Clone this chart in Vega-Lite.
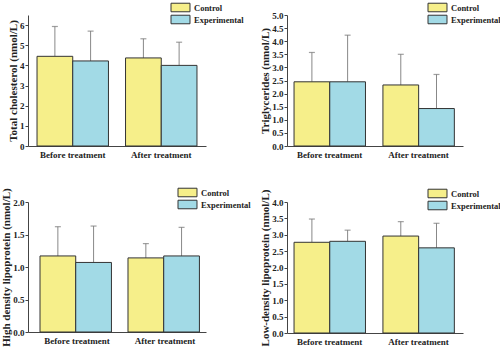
{
  "$schema": "https://vega.github.io/schema/vega-lite/v6.json",
  "padding": {"left": 0, "top": 2, "right": 0, "bottom": 0},
  "background": "white",
  "datasets": {
    "tc": [
      {"time": "Before treatment", "group": "Control", "value": 4.45, "upper": 5.93},
      {"time": "Before treatment", "group": "Experimental", "value": 4.22, "upper": 5.7},
      {"time": "After treatment", "group": "Control", "value": 4.37, "upper": 5.32},
      {"time": "After treatment", "group": "Experimental", "value": 4.0, "upper": 5.15}
    ],
    "tg": [
      {"time": "Before treatment", "group": "Control", "value": 2.45, "upper": 3.57},
      {"time": "Before treatment", "group": "Experimental", "value": 2.45, "upper": 4.23},
      {"time": "After treatment", "group": "Control", "value": 2.33, "upper": 3.5},
      {"time": "After treatment", "group": "Experimental", "value": 1.43, "upper": 2.73}
    ],
    "hdl": [
      {"time": "Before treatment", "group": "Control", "value": 1.17, "upper": 1.62},
      {"time": "Before treatment", "group": "Experimental", "value": 1.07, "upper": 1.63},
      {"time": "After treatment", "group": "Control", "value": 1.14, "upper": 1.36},
      {"time": "After treatment", "group": "Experimental", "value": 1.17, "upper": 1.61}
    ],
    "ldl": [
      {"time": "Before treatment", "group": "Control", "value": 2.77, "upper": 3.48},
      {"time": "Before treatment", "group": "Experimental", "value": 2.8, "upper": 3.14},
      {"time": "After treatment", "group": "Control", "value": 2.96, "upper": 3.4},
      {"time": "After treatment", "group": "Experimental", "value": 2.6, "upper": 3.35}
    ]
  },
  "config": {
    "font": "Liberation Serif",
    "view": {"stroke": null},
    "axis": {
      "labelFont": "Liberation Serif", "labelFontWeight": "bold", "labelFontSize": 9, "labelColor": "#222",
      "titleFont": "Liberation Serif", "titleFontWeight": "bold", "titleFontSize": 11, "titleColor": "#222",
      "domainColor": "#444", "tickColor": "#444", "tickSize": 3, "grid": false
    },
    "axisX": {"ticks": false, "labelPadding": 4, "labelAngle": 0},
    "axisY": {"titlePadding": 1, "labelPadding": 1},
    "legend": {
      "labelFont": "Liberation Serif", "labelFontWeight": "bold", "labelFontSize": 8.5, "labelColor": "#222",
      "symbolType": "M-2,-0.9H2V0.9H-2Z", "symbolSize": 90, "symbolStrokeColor": "#333", "symbolStrokeWidth": 1,
      "rowPadding": -1, "labelOffset": 8, "orient": "none", "title": null
    }
  },
  "resolve": {"scale": {"color": "independent"}, "legend": {"color": "independent"}},
  "concat": [
    {
      "data": {"name": "tc"},
      "width": 178, "height": 131,
      "encoding": {
        "x": {"field": "time", "type": "nominal", "sort": ["Before treatment", "After treatment"], "title": null,
              "scale": {"paddingInner": 0.193, "paddingOuter": 0.102, "align": 0.5}},
        "xOffset": {"field": "group", "type": "nominal", "sort": ["Control", "Experimental"]},
        "y": {"field": "value", "type": "quantitative", "title": "Total cholesterol (nmol/L)",
              "scale": {"domain": [0, 6.5], "nice": false},
              "axis": {"values": [0, 1, 2, 3, 4, 5, 6]}}
      },
      "layer": [
        {"mark": {"type": "rule", "color": "#888", "strokeWidth": 1},
         "encoding": {"y2": {"field": "upper"}}},
        {"mark": {"type": "tick", "color": "#777", "size": 6, "thickness": 1.2, "orient": "horizontal"},
         "encoding": {"y": {"field": "upper", "type": "quantitative", "title": "Total cholesterol (nmol/L)",
              "axis": {"values": [0, 1, 2, 3, 4, 5, 6]}}}},
        {"mark": {"type": "bar", "stroke": "#333", "strokeWidth": 1},
         "encoding": {
           "color": {"field": "group", "type": "nominal",
                     "scale": {"domain": ["Control", "Experimental"], "range": ["#F6EF8A", "#A2DAE6"]},
                     "legend": {"legendX": 147, "legendY": -13}}
         }}
      ]
    },
    {
      "data": {"name": "tg"},
      "width": 176, "height": 131,
      "encoding": {
        "x": {"field": "time", "type": "nominal", "sort": ["Before treatment", "After treatment"], "title": null,
              "scale": {"paddingInner": 0.2, "paddingOuter": 0.09, "align": 0.44}},
        "xOffset": {"field": "group", "type": "nominal", "sort": ["Control", "Experimental"]},
        "y": {"field": "value", "type": "quantitative", "title": "Triglycerides (nmol/L)",
              "scale": {"domain": [0, 5], "nice": false},
              "axis": {"values": [0, 0.5, 1, 1.5, 2, 2.5, 3, 3.5, 4, 4.5, 5], "format": ".1f"}}
      },
      "layer": [
        {"mark": {"type": "rule", "color": "#888", "strokeWidth": 1},
         "encoding": {"y2": {"field": "upper"}}},
        {"mark": {"type": "tick", "color": "#777", "size": 6, "thickness": 1.2, "orient": "horizontal"},
         "encoding": {"y": {"field": "upper", "type": "quantitative", "title": "Triglycerides (nmol/L)",
              "axis": {"values": [0, 0.5, 1, 1.5, 2, 2.5, 3, 3.5, 4, 4.5, 5], "format": ".1f"}}}},
        {"mark": {"type": "bar", "stroke": "#333", "strokeWidth": 1},
         "encoding": {
           "color": {"field": "group", "type": "nominal",
                     "scale": {"domain": ["Control", "Experimental"], "range": ["#F6EF8A", "#A2DAE6"]},
                     "legend": {"legendX": 145, "legendY": -13}}
         }}
      ]
    },
    {
      "data": {"name": "hdl"},
      "width": 178, "height": 130,
      "encoding": {
        "x": {"field": "time", "type": "nominal", "sort": ["Before treatment", "After treatment"], "title": null,
              "scale": {"paddingInner": 0.159, "paddingOuter": 0.091, "align": 0.75}},
        "xOffset": {"field": "group", "type": "nominal", "sort": ["Control", "Experimental"]},
        "y": {"field": "value", "type": "quantitative", "title": "High density lipoprotein (nmol/L)",
              "scale": {"domain": [0, 2], "nice": false},
              "axis": {"values": [0, 0.5, 1, 1.5, 2], "format": ".1f"}}
      },
      "layer": [
        {"mark": {"type": "rule", "color": "#888", "strokeWidth": 1},
         "encoding": {"y2": {"field": "upper"}}},
        {"mark": {"type": "tick", "color": "#777", "size": 6, "thickness": 1.2, "orient": "horizontal"},
         "encoding": {"y": {"field": "upper", "type": "quantitative", "title": "High density lipoprotein (nmol/L)",
              "axis": {"values": [0, 0.5, 1, 1.5, 2], "format": ".1f"}}}},
        {"mark": {"type": "bar", "stroke": "#333", "strokeWidth": 1},
         "encoding": {
           "color": {"field": "group", "type": "nominal",
                     "scale": {"domain": ["Control", "Experimental"], "range": ["#F6EF8A", "#A2DAE6"]},
                     "legend": {"legendX": 154, "legendY": -15}}
         }}
      ]
    },
    {
      "data": {"name": "ldl"},
      "width": 176, "height": 131,
      "encoding": {
        "x": {"field": "time", "type": "nominal", "sort": ["Before treatment", "After treatment"], "title": null,
              "scale": {"paddingInner": 0.2, "paddingOuter": 0.09, "align": 0.44}},
        "xOffset": {"field": "group", "type": "nominal", "sort": ["Control", "Experimental"]},
        "y": {"field": "value", "type": "quantitative", "title": "Low-density lipoprotein (nmol/L)",
              "scale": {"domain": [0, 4], "nice": false},
              "axis": {"values": [0, 0.5, 1, 1.5, 2, 2.5, 3, 3.5, 4], "format": ".1f"}}
      },
      "layer": [
        {"mark": {"type": "rule", "color": "#888", "strokeWidth": 1},
         "encoding": {"y2": {"field": "upper"}}},
        {"mark": {"type": "tick", "color": "#777", "size": 6, "thickness": 1.2, "orient": "horizontal"},
         "encoding": {"y": {"field": "upper", "type": "quantitative", "title": "Low-density lipoprotein (nmol/L)",
              "axis": {"values": [0, 0.5, 1, 1.5, 2, 2.5, 3, 3.5, 4], "format": ".1f"}}}},
        {"mark": {"type": "bar", "stroke": "#333", "strokeWidth": 1},
         "encoding": {
           "color": {"field": "group", "type": "nominal",
                     "scale": {"domain": ["Control", "Experimental"], "range": ["#F6EF8A", "#A2DAE6"]},
                     "legend": {"legendX": 145, "legendY": -14}}
         }}
      ]
    }
  ],
  "columns": 2,
  "align": "none",
  "bounds": "flush",
  "spacing": {"row": 56, "column": 81}
}
